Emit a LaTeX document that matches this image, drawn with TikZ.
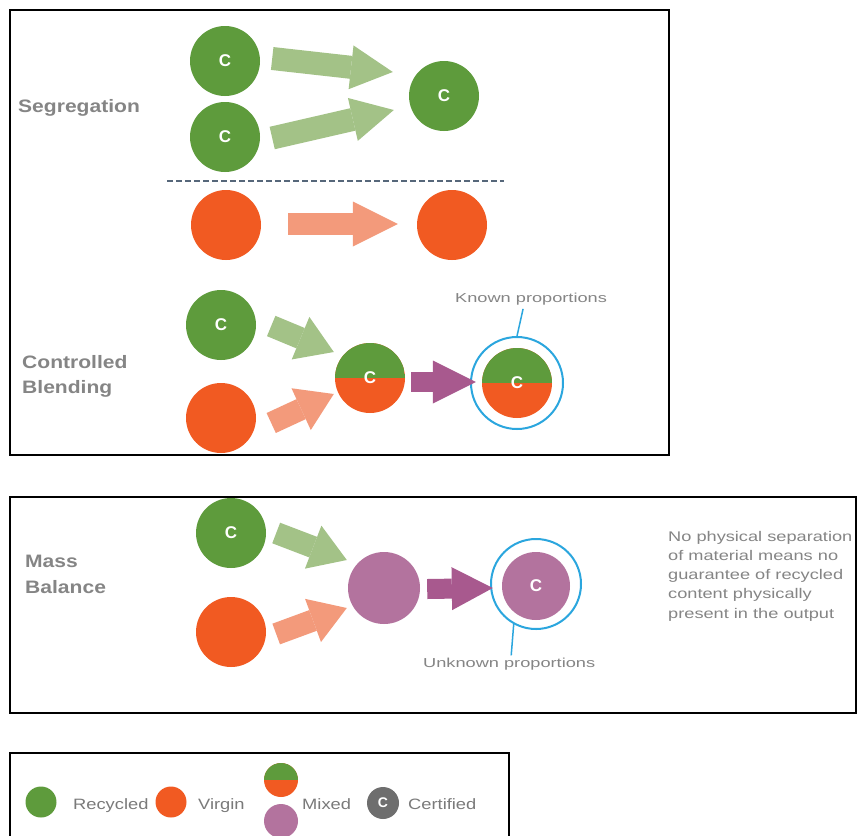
\documentclass[tikz,border=0pt]{standalone}
\usepackage{fontspec}
\setmainfont{Liberation Sans}
\newfontfamily\ttlfont[FakeStretch=1.17]{Liberation Sans}
\newfontfamily\lightfont[FakeStretch=1.4]{Liberation Sans}
\newfontfamily\notefont[FakeStretch=1.3]{Liberation Sans}
\newfontfamily\legfont[FakeStretch=1.22]{Liberation Sans}
\usetikzlibrary{arrows.meta,calc}
\definecolor{recg}{HTML}{5E9B3C}
\definecolor{virg}{HTML}{F15A22}
\definecolor{mixp}{HTML}{B3739E}
\definecolor{arrg}{HTML}{A3C287}
\definecolor{arro}{HTML}{F39A7B}
\definecolor{arrp}{HTML}{A8598E}
\definecolor{ringb}{HTML}{2BA6DE}
\definecolor{txtg}{HTML}{858585}
\definecolor{legtxt}{HTML}{7A7A7A}
\definecolor{dashc}{HTML}{56677A}
\definecolor{certg}{HTML}{6E6E6E}
\newcommand\ballfont{\fontsize{17}{17}\selectfont\bfseries}
\begin{document}
\begin{tikzpicture}[x=1pt,y=-1pt,
  ball/.style={circle,inner sep=0pt,minimum size=#1,text=white,font=\ballfont},
  recball/.style={ball=#1,fill=recg}, recball/.default=70,
  virball/.style={ball=#1,fill=virg}, virball/.default=70,
  purball/.style={ball=#1,fill=mixp}, purball/.default=70,
  mixball/.style={ball=#1,fill=virg,path picture={\fill[recg] (path picture bounding box.north west) rectangle (path picture bounding box.east);}}, mixball/.default=70,
  ring/.style={circle,inner sep=0pt,minimum size=#1,draw=ringb,line width=2pt},
  blockarrow/.style n args={4}{draw=#1,line width=#2,-{Triangle[length=#3,width=#4,line width=0pt]}},
  frame/.style={line width=1.8pt,draw=black},
  ttl/.style={anchor=base west,inner sep=0pt,text=txtg,font=\ttlfont\bfseries\fontsize{18}{18}\selectfont},
  lbl/.style={anchor=base west,inner sep=0pt,text=txtg,font=\lightfont\fontsize{13}{13}\selectfont},
  note/.style={anchor=base west,inner sep=0pt,text=txtg,font=\notefont\fontsize{14}{14}\selectfont},
  legt/.style={anchor=base west,inner sep=0pt,text=legtxt,font=\legfont\fontsize{15}{15}\selectfont},
  leader/.style={draw=ringb,line width=1.5pt},
  dashline/.style={draw=dashc,line width=1.8pt,dash pattern=on 6pt off 3pt}
]
\useasboundingbox (0,0) rectangle (858,835);
\fill[white] (0,0) rectangle (858,835);

% frames
\draw[frame] (10,10) rectangle (669,455);
\draw[frame] (10,497) rectangle (856,713);
\draw[frame] (10,840) -- (10,753) -- (509,753) -- (509,840);

% ---------- Segregation ----------
\node[ttl] (segt) at (18,112) {Segregation};
\node[recball] (sg1) at (225,61) {C};
\node[recball] (sg2) at (225,137) {C};
\node[recball] (sg3) at (444,96) {C};
\draw[blockarrow={arrg}{23pt}{42pt}{44pt}] ([shift={(12,-2.5)}]sg1.east) -- ([shift={(-16,-24)}]sg3.west);
\draw[blockarrow={arrg}{23pt}{42pt}{44pt}] ([shift={(12,1)}]sg2.east) -- ([shift={(-15,14)}]sg3.west);
\draw[dashline] (167,181) -- (504,181);
\node[virball] (sv1) at (226,225) {};
\node[virball] (sv2) at (452,225) {};
\draw[blockarrow={arro}{22pt}{45pt}{45pt}] ([shift={(27,-1)}]sv1.east) -- ([shift={(-19,-1)}]sv2.west);

% ---------- Controlled Blending ----------
\node[ttl] (cbt1) at (22,368) {Controlled};
\node[ttl] (cbt2) at (22,393) {Blending};
\node[recball] (cg) at (221,325) {C};
\node[virball] (cv) at (221,418) {};
\node[mixball] (cm) at (370,378) {C};
\node[mixball] (ck) at (517,383) {C};
\node[ring=92] (ckr) at (517,383) {};
\draw[blockarrow={arrg}{22pt}{36pt}{46pt}] ([shift={(15,1)}]cg.east) -- ([shift={(-1,-26)}]cm.west);
\draw[blockarrow={arro}{22pt}{36pt}{46pt}] ([shift={(15,5)}]cv.east) -- ([shift={(-1,16)}]cm.west);
\draw[blockarrow={arrp}{20pt}{43pt}{43pt}] ([shift={(6,4)}]cm.east) -- ([shift={(-6,-1)}]ck.west);
\node[lbl] (kt) at (455,302) {Known proportions};
\draw[leader] ([shift={(-8,4)}]kt.south) -- (ckr.north);

% ---------- Mass Balance ----------
\node[ttl] (mbt1) at (25,567) {Mass};
\node[ttl] (mbt2) at (25,593) {Balance};
\node[recball] (mg) at (231,533) {C};
\node[virball] (mv) at (231,632) {};
\node[purball=72] (mp) at (384,588) {};
\node[purball=68] (mc) at (536,586) {C};
\node[ring=90] (mcr) at (536,584) {};
\draw[blockarrow={arrg}{22pt}{36pt}{46pt}] ([shift={(10,0)}]mg.east) -- ([shift={(-1,-28)}]mp.west);
\draw[blockarrow={arro}{22pt}{36pt}{46pt}] ([shift={(10,2)}]mv.east) -- ([shift={(-1,20)}]mp.west);
\draw[blockarrow={arrp}{20pt}{41pt}{43pt}] ([shift={(7,1)}]mp.east) -- ([shift={(-9,2)}]mc.west);
\node[lbl] (ut) at (423,667) {Unknown proportions};
\draw[leader] (mcr.-119) -- ([shift={(2,-2)}]ut.north);
\node[note] (n1) at (668,541) {No physical separation};
\node[note] (n2) at (668,560.3) {of material means no};
\node[note] (n3) at (668,579.6) {guarantee of recycled};
\node[note] (n4) at (668,598.9) {content physically};
\node[note] (n5) at (668,618.2) {present in the output};

% ---------- Legend ----------
\node[recball=31] (lg) at (41,802) {};
\node[legt] (lgt) at (73,809) {Recycled};
\node[virball=31] (lv) at (171,802) {};
\node[legt] (lvt) at (198,809) {Virgin};
\node[mixball=34] (lm) at (281,780) {};
\node[purball=34] (lp) at (281,821) {};
\node[legt] (lmt) at (302,809) {Mixed};
\node[ball=32,fill=certg,font=\fontsize{14}{14}\selectfont\bfseries] (lc) at (383,803) {C};
\node[legt] (lct) at (408,809) {Certified};
\end{tikzpicture}
\end{document}
